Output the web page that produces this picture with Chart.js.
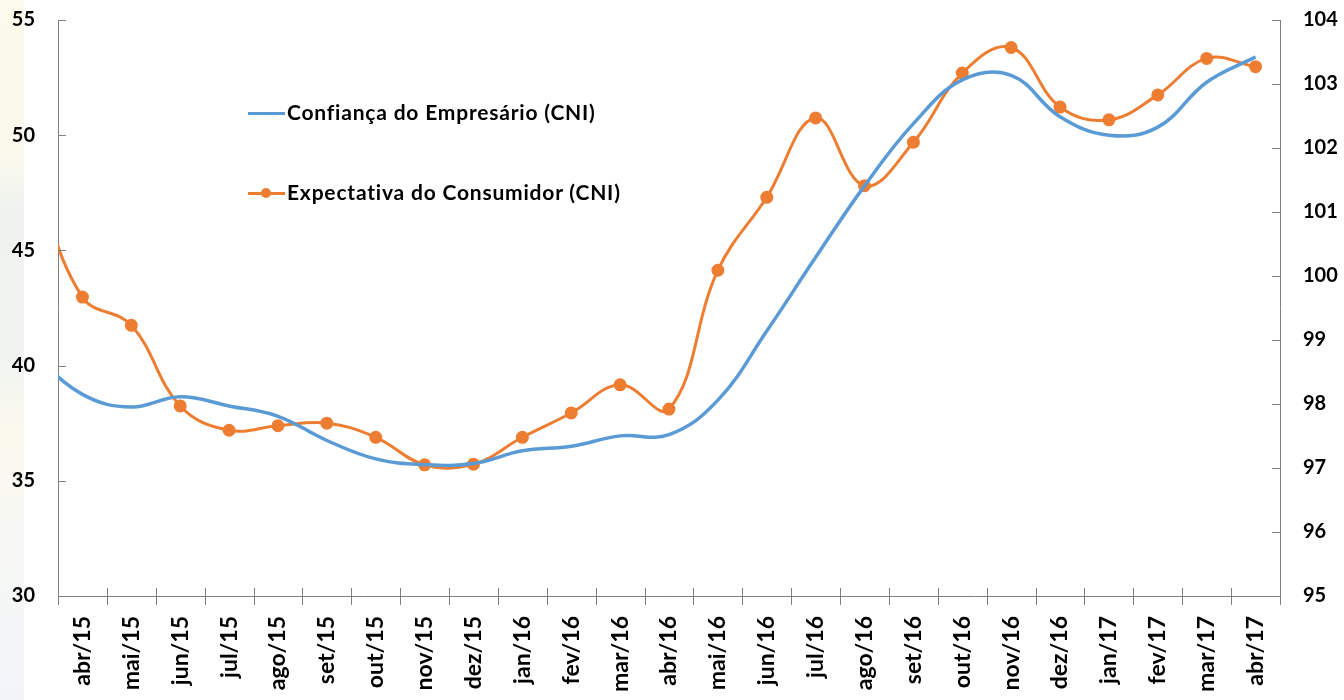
<!DOCTYPE html>
<html>
<head>
<meta charset="utf-8">
<script src="https://cdn.jsdelivr.net/npm/chart.js@4.4.1/dist/chart.umd.min.js"></script>
<style>
  body { margin: 0; background: #fff; }
  #wrap { position: relative; width: 1344px; height: 700px; }
  #edge { position: absolute; left: 0; top: 0; width: 24px; height: 700px;
    background: linear-gradient(#fcfaeb 0%, #fbf9ec 22%, #eef3ef 30%, #eff4f0 50%, #fbf9ee 62%, #f7f8f3 75%, #f1f5fa 100%); }
  canvas { position: relative; }
  .leg { position: absolute; font-family: Lato, sans-serif; font-weight: bold; font-size: 21px; letter-spacing: 0.8px; color: #000; white-space: nowrap; }
  .swatch { position: absolute; height: 3px; }
  .dot { position: absolute; width: 10px; height: 10px; border-radius: 50%; background: #ED7D31; }
</style>
</head>
<body>
<div id="wrap">
  <div id="edge"></div>
  <canvas id="chart"></canvas>
  <div class="swatch" style="left:248px; top:112px; width:37px; background:#5B9BD5;"></div>
  <div class="leg" style="left:287px; top:99px;">Confiança do Empresário (CNI)</div>
  <div class="swatch" style="left:248px; top:192px; width:37px; background:#ED7D31;"></div>
  <div class="dot" style="left:261px; top:188px;"></div>
  <div class="leg" style="left:287px; top:179px;">Expectativa do Consumidor (CNI)</div>
</div>
<script>
// months (mar/15 sits just left of the visible range, like the original)
const months = ['mar/15', 'abr/15', 'mai/15', 'jun/15', 'jul/15', 'ago/15', 'set/15', 'out/15', 'nov/15', 'dez/15',
  'jan/16', 'fev/16', 'mar/16', 'abr/16', 'mai/16', 'jun/16', 'jul/16', 'ago/16', 'set/16', 'out/16', 'nov/16', 'dez/16',
  'jan/17', 'fev/17', 'mar/17', 'abr/17'];

// left axis
const confianca = [40.5, 38.75, 38.2, 38.65, 38.25, 37.8, 36.75, 35.95, 35.7, 35.75, 36.3, 36.5, 36.95, 37.0,
  38.5, 41.5, 44.7, 47.8, 50.5, 52.4, 52.6, 50.8, 50.0, 50.35, 52.3, 53.4];

// right axis
const expectativa = [101.6, 99.67, 99.23, 97.97, 97.59, 97.66, 97.7, 97.48, 97.05, 97.06, 97.48, 97.86, 98.3, 97.92,
  100.09, 101.23, 102.47, 101.41, 102.09, 103.17, 103.57, 102.64, 102.44, 102.83, 103.4, 103.27];

const leftTicks = { min: 30, max: 55, step: 5 };
const rightTicks = { min: 95, max: 104, step: 1 };

const axisColor = '#7f7f7f';
const tickFont = { family: 'Lato', weight: 'bold', size: 20 };

// Excel-style tick marks: inside on the value axes, crossing on the category axis
const tickMarks = {
  id: 'tickMarks',
  afterDatasetsDraw(chart) {
    const ctx = chart.ctx;
    const area = chart.chartArea;
    const x = chart.scales.x, y = chart.scales.y, y1 = chart.scales.y1;
    ctx.save();
    ctx.strokeStyle = axisColor;
    ctx.lineWidth = 1;
    ctx.beginPath();
    y.ticks.forEach(t => {
      const p = Math.round(y.getPixelForValue(t.value)) + 0.5;
      ctx.moveTo(area.left, p); ctx.lineTo(area.left + 8, p);
    });
    y1.ticks.forEach(t => {
      const p = Math.round(y1.getPixelForValue(t.value)) + 0.5;
      ctx.moveTo(area.right - 8, p); ctx.lineTo(area.right, p);
    });
    const n = x.ticks.length;
    const half = (x.getPixelForTick(1) - x.getPixelForTick(0)) / 2;
    for (let i = 0; i <= n; i++) {
      const p = Math.round(x.getPixelForTick(0) - half + i * half * 2) + 0.5;
      ctx.moveTo(p, area.bottom - 8); ctx.lineTo(p, area.bottom + 9);
    }
    ctx.stroke();
    ctx.restore();
  }
};

new Chart(document.getElementById('chart'), {
  type: 'line',
  data: {
    labels: months,
    datasets: [
      {
        label: 'Confiança do Empresário (CNI)',
        data: confianca,
        yAxisID: 'y',
        borderColor: '#5B9BD5',
        borderWidth: 3.5,
        pointRadius: 0,
        tension: 0.4
      },
      {
        label: 'Expectativa do Consumidor (CNI)',
        data: expectativa,
        yAxisID: 'y1',
        borderColor: '#ED7D31',
        backgroundColor: '#ED7D31',
        borderWidth: 3,
        pointRadius: 5,
        pointBackgroundColor: '#ED7D31',
        pointBorderColor: '#ED7D31',
        tension: 0.4
      }
    ]
  },
  options: {
    responsive: true,
    maintainAspectRatio: false,
    animation: false,
    layout: { padding: { top: 20, left: 0, right: 0, bottom: 0 } },
    plugins: {
      legend: { display: false },
      tooltip: { enabled: false }
    },
    scales: {
      x: {
        type: 'category',
        min: 'abr/15',
        offset: true,
        grid: { display: false },
        border: { display: true, color: axisColor, width: 1 },
        ticks: {
          autoSkip: false,
          minRotation: 90,
          maxRotation: 90,
          padding: 12,
          color: '#000',
          font: { family: 'Lato', weight: 'bold', size: 23 }
        },
        afterFit(scale) { scale.height = 104; }
      },
      y: {
        position: 'left',
        min: leftTicks.min,
        max: leftTicks.max,
        grid: { display: false, tickLength: 21 },
        border: { display: true, color: axisColor, width: 1 },
        ticks: { stepSize: leftTicks.step, padding: 2, color: '#000', font: tickFont },
        afterFit(scale) { scale.width = 58; }
      },
      y1: {
        position: 'right',
        min: rightTicks.min,
        max: rightTicks.max,
        grid: { display: false, tickLength: 21 },
        border: { display: true, color: axisColor, width: 1 },
        ticks: { stepSize: rightTicks.step, padding: 2, color: '#000', font: tickFont },
        afterFit(scale) { scale.width = 64; }
      }
    }
  },
  plugins: [tickMarks]
});
</script>
</body>
</html>
